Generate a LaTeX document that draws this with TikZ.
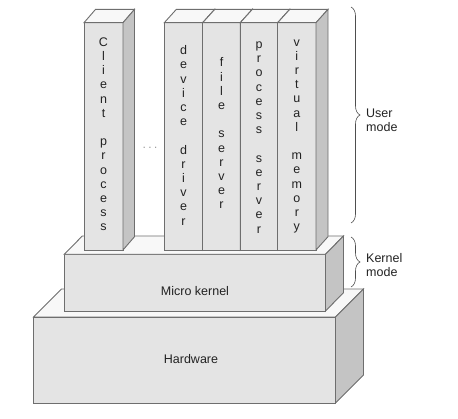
\documentclass[tikz,border=0pt]{standalone}
\usepackage{fontspec}
\setmainfont{Liberation Sans}
\usetikzlibrary{decorations.pathreplacing}
\definecolor{frontc}{HTML}{E4E4E4}
\definecolor{sidec}{HTML}{C4C4C4}
\definecolor{topc}{HTML}{F8F8F8}
\definecolor{edgec}{HTML}{6E6E6E}
\definecolor{textc}{HTML}{222222}
\tikzset{
  face/.style={draw=edgec, line width=0.9pt, line join=miter},
  frontface/.style={face, fill=frontc, rectangle, inner sep=0pt, outer sep=0pt, anchor=south west},
  lbl/.style={text=textc, font=\fontsize{12.5}{14}\selectfont, inner sep=0pt},
  coltext/.style={text=textc, align=center, font=\fontsize{12.5}{14.2}\selectfont, inner sep=0pt},
  bracestyle/.style={draw=textc!80, line width=0.6pt, decorate, decoration={brace, amplitude=9pt}},
}
\newcommand\boxthreed[7]{%
  \node[frontface, minimum width=#4pt, minimum height=#5pt] (#1) at (#2,#3) {};
  \filldraw[face, fill=topc] (#1.north west) -- ([shift={(#6pt,#7pt)}]#1.north west) -- ([shift={(#6pt,#7pt)}]#1.north east) -- (#1.north east) -- cycle;
  \filldraw[face, fill=sidec] (#1.north east) -- ([shift={(#6pt,#7pt)}]#1.north east) -- ([shift={(#6pt,#7pt)}]#1.south east) -- (#1.south east) -- cycle;
}
\begin{document}
\begin{tikzpicture}[x=1pt, y=1pt]
\useasboundingbox (0,0) rectangle (458,418);
% hardware
\boxthreed{hw}{33.5}{15}{302}{86}{28}{28}
\node[lbl] (hwtext) at (191,59) {Hardware};
% micro kernel
\boxthreed{mk}{64.3}{107}{261.2}{56.7}{18}{18.3}
\node[lbl] (mktext) at (195,126.5) {Micro kernel};
% columns
\boxthreed{cl}{84}{168}{39}{227.3}{11.5}{13.3}
\boxthreed{dd}{164.3}{168}{38.4}{227.3}{12}{13.3}
\boxthreed{fs}{202.7}{168}{37.6}{227.3}{12}{13.3}
\boxthreed{ps}{240.3}{168}{37.4}{227.3}{12}{13.3}
\boxthreed{vm}{277.7}{168}{38.3}{227.3}{12}{13.3}
\node[coltext] (cltext) at ([yshift=2pt]cl.center) {C\\l\\i\\e\\n\\t\\[14.2pt]p\\r\\o\\c\\e\\s\\s};
\node[coltext] (ddtext) at ([yshift=1pt]dd.center) {d\\e\\v\\i\\c\\e\\[14.2pt]d\\r\\i\\v\\e\\r};
\node[coltext] (fstext) at ([yshift=3pt]fs.center) {f\\i\\l\\e\\[14.2pt]s\\e\\r\\v\\e\\r};
\node[coltext] (pstext) at ([yshift=-1pt]ps.center) {p\\r\\o\\c\\e\\s\\s\\[14.2pt]s\\e\\r\\v\\e\\r};
\node[coltext] (vmtext) at ([yshift=0pt]vm.center) {v\\i\\r\\t\\u\\a\\l\\[14.2pt]m\\e\\m\\o\\r\\y};
\node[text=edgec, font=\fontsize{10}{12}\selectfont, inner sep=0pt] (dots) at (150,269) {·\hspace{2.5pt}·\hspace{2.5pt}·};
% braces
\coordinate (ut) at (351,411);
\coordinate (ub) at (351,195);
\coordinate (kt) at (351,181);
\coordinate (kb) at (351,131);
\draw[bracestyle] (ut) -- (ub);
\draw[bracestyle] (kt) -- (kb);
\node[lbl, anchor=west, align=left] (user) at (366,298) {User\\mode};
\node[lbl, anchor=west, align=left] (kernel) at (366,153) {Kernel\\mode};
\end{tikzpicture}
\end{document}
